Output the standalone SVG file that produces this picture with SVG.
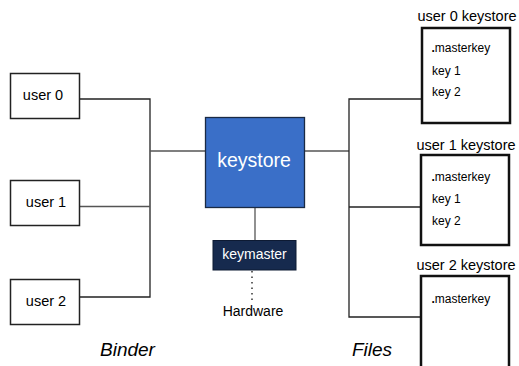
<svg xmlns="http://www.w3.org/2000/svg" width="519" height="366" viewBox="0 0 519 366">
<style>
text{font-family:"Liberation Sans",Arial,sans-serif;fill:#000}
.ubox{fill:#fff;stroke:#222;stroke-width:1.5}
.kbox{fill:#fff;stroke:#111;stroke-width:2.5}
.ln{stroke:#222;stroke-width:1.3;fill:none}
.lg{stroke:#555;stroke-width:1.3;fill:none}
.u{font-size:14.5px;text-anchor:middle}
.kl{font-size:14.5px;text-anchor:middle}
.f{font-size:12px}
.big{font-size:19px;font-style:italic}
</style>
<rect width="519" height="366" fill="#fff"/>
<g id="connectors">
<polyline class="ln" points="79,99 150,99 150,297 79,297"/>
<line class="lg" x1="79" y1="206.5" x2="150" y2="206.5"/>
<line class="lg" x1="150" y1="151" x2="205" y2="151"/>
<line class="lg" x1="305" y1="151" x2="349" y2="151"/>
<line class="lg" x1="255" y1="208" x2="255" y2="240"/>
<polyline class="ln" points="421,99 349,99 349,317 420,317"/>
<line class="ln" x1="349" y1="207" x2="421" y2="207"/>
<line x1="252" y1="271" x2="252" y2="301" stroke="#333" stroke-width="1.5" stroke-dasharray="1.5,4"/>
</g>
<g id="user0"><rect class="ubox" x="10.5" y="73.5" width="69" height="45"/><text class="u" x="43" y="100">user 0</text></g>
<g id="user1"><rect class="ubox" x="10.5" y="180.5" width="69" height="45"/><text class="u" x="46" y="207">user 1</text></g>
<g id="user2"><rect class="ubox" x="10.5" y="279.5" width="69" height="45"/><text class="u" x="46" y="306">user 2</text></g>
<g id="keystore"><rect x="205.5" y="117.5" width="99" height="90" fill="#3a6fc8" stroke="#1a2a44" stroke-width="1.3"/><text x="254" y="167" font-size="19.5" text-anchor="middle" style="fill:#fff">keystore</text></g>
<g id="keymaster"><rect x="213" y="240.5" width="83" height="29.5" fill="#162a4e" stroke="#0d1a33" stroke-width="1"/><text x="254.5" y="259" font-size="14" text-anchor="middle" style="fill:#fff">keymaster</text></g>
<g id="hardware"><text x="253" y="316" font-size="14" text-anchor="middle">Hardware</text></g>
<g id="ks0"><text class="kl" x="467" y="21">user 0 keystore</text><rect class="kbox" x="422" y="28" width="88" height="95"/>
<text class="f" x="431.5" y="52"><tspan font-weight="bold">.</tspan>masterkey</text><text class="f" x="432" y="75">key 1</text><text class="f" x="432" y="96">key 2</text></g>
<g id="ks1"><text class="kl" x="466" y="150">user 1 keystore</text><rect class="kbox" x="421" y="155" width="88" height="90"/>
<text class="f" x="431.5" y="181"><tspan font-weight="bold">.</tspan>masterkey</text><text class="f" x="432" y="203">key 1</text><text class="f" x="432" y="225">key 2</text></g>
<g id="ks2"><text class="kl" x="466" y="270">user 2 keystore</text><rect class="kbox" x="421" y="276" width="88" height="100"/>
<text class="f" x="431.5" y="303"><tspan font-weight="bold">.</tspan>masterkey</text></g>
<text class="big" x="100" y="356">Binder</text>
<text class="big" x="352" y="356">Files</text>
</svg>
